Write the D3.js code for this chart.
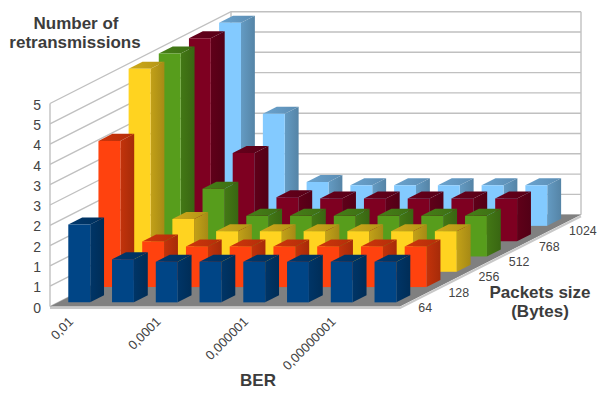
<!DOCTYPE html>
<html>
<head>
<meta charset="utf-8">
<script src="https://cdn.jsdelivr.net/npm/d3@7"></script>
<style>
  html, body { margin: 0; padding: 0; background: #fff; overflow: hidden; }
  svg { display: block; }
  text { font-family: "Liberation Sans", Arial, sans-serif; fill: #444; }
  .title { font-weight: bold; font-size: 17px; fill: #3c3c3c; }
  .tick-label { font-size: 13px; }
  .size-label { font-size: 12.4px; }
</style>
</head>
<body>
<svg id="chart" width="597" height="406"></svg>
<script>
// Retransmission counts by bit error rate (columns) and packet size (rows).
const berLevels = ["0,01", "0,001", "0,0001", "0,00001", "0,000001", "0,0000001", "0,00000001", "0,000000001"];
const berLabels = ["0,01", "0,0001", "0,000001", "0,00000001"];
const packetSizes = ["64", "128", "256", "512", "768", "1024"];
const valueTicks = [0, 0.5, 1, 1.5, 2, 2.5, 3, 3.5, 4, 4.5, 5];

const size64 = [1.92, 1.06, 1, 1, 1, 1, 1, 1];
const size128 = [3.6, 1.12, 1, 1, 1, 1, 1, 1];
const size256 = [5, 1.3, 1, 1, 1, 1, 1, 1];
const size512 = [5, 1.67, 1, 1, 1, 1, 1, 1];
const size768 = [5, 2.17, 1.08, 1.05, 1.05, 1.05, 1.05, 1.05];
const size1024 = [5, 2.76, 1.08, 1, 1, 1, 1, 1];
const seriesValues = [size64, size128, size256, size512, size768, size1024];

const frontColors = ["#004586", "#ff420e", "#ffd320", "#579d1c", "#7e0021", "#83caff"];

// Oblique projection of the chart box onto the page.
const origin = { x: 50, y: 306.5 };
const boxWidth = 350;
const boxHeight = 203;
const depthDx = 181;
const depthDy = -91.8;

const xScale = d3.scaleBand().domain(berLevels).range([-0.8, boxWidth - 0.8]).paddingInner(0.5).paddingOuter(0.25);
const depthScale = d3.scaleBand().domain(packetSizes).range([0, 1]).paddingInner(0.54).paddingOuter(0.27);
const yScale = d3.scaleLinear().domain([0, 5]).range([0, boxHeight]);

const project = (x, z, h) => [origin.x + x + z * depthDx, origin.y + z * depthDy - h];
const polygon = pts => pts.map(p => p.join(",")).join(" ");

const svg = d3.select("#chart");
const defs = svg.append("defs");

frontColors.forEach((c, i) => {
  const grad = defs.append("linearGradient").attr("id", "side" + i);
  grad.append("stop").attr("offset", 0).attr("stop-color", d3.color(c).darker(0.75));
  grad.append("stop").attr("offset", 1).attr("stop-color", d3.color(c).darker(1.2));
  const top = defs.append("linearGradient").attr("id", "top" + i);
  top.append("stop").attr("offset", 0).attr("stop-color", d3.color(c).darker(0.6));
  top.append("stop").attr("offset", 1).attr("stop-color", d3.color(c).darker(1));
});

// Walls and gridlines
const wall = svg.append("g").attr("fill", "none").attr("stroke", "#c0c0c0").attr("stroke-width", 1.4);
valueTicks.forEach(v => {
  const h = yScale(v);
  wall.append("polyline").attr("points", polygon([project(0, 0, h), project(0, 1, h), project(boxWidth, 1, h)]));
});
wall.append("line")
  .attr("x1", project(0, 0, 0)[0]).attr("y1", project(0, 0, 0)[1])
  .attr("x2", project(0, 0, boxHeight)[0]).attr("y2", project(0, 0, boxHeight)[1]);
wall.append("line")
  .attr("x1", project(0, 1, 0)[0]).attr("y1", project(0, 1, 0)[1])
  .attr("x2", project(0, 1, boxHeight)[0]).attr("y2", project(0, 1, boxHeight)[1]);
wall.append("line")
  .attr("x1", project(boxWidth, 1, 0)[0]).attr("y1", project(boxWidth, 1, 0)[1])
  .attr("x2", project(boxWidth, 1, boxHeight)[0]).attr("y2", project(boxWidth, 1, boxHeight)[1]);

// Floor with its lighter front edge
svg.append("polygon")
  .attr("points", polygon([project(0, 0, 0), project(boxWidth, 0, 0), project(boxWidth, 1, 0), project(0, 1, 0)]))
  .attr("fill", "#808080");
svg.append("polyline")
  .attr("points", polygon([[origin.x, origin.y + 1.5], [origin.x + boxWidth, origin.y + 1.5], project(boxWidth, 1, -1.5)]))
  .attr("fill", "none").attr("stroke", "#c8c8c8").attr("stroke-width", 2.2);

// Bars are painted from the back row to the front so nearer ones overlap.
const bars = svg.append("g");
d3.range(packetSizes.length - 1, -1, -1).forEach(r => {
  const z0 = depthScale(packetSizes[r]);
  const z1 = z0 + depthScale.bandwidth();
  seriesValues[r].forEach((value, c) => {
    const x0 = xScale(berLevels[c]);
    const x1 = x0 + xScale.bandwidth();
    const h = yScale(value);
    const g = bars.append("g");
    g.append("polygon")
      .attr("points", polygon([project(x1, z0, 0), project(x1, z1, 0), project(x1, z1, h), project(x1, z0, h)]))
      .attr("fill", `url(#side${r})`);
    g.append("polygon")
      .attr("points", polygon([project(x0, z0, h), project(x1, z0, h), project(x1, z1, h), project(x0, z1, h)]))
      .attr("fill", `url(#top${r})`);
    g.append("polygon")
      .attr("points", polygon([project(x0, z0, 0), project(x1, z0, 0), project(x1, z0, h), project(x0, z0, h)]))
      .attr("fill", frontColors[r]);
  });
});

// Value axis on the front edge of the left wall
const valueAxis = d3.axisLeft(d3.scaleLinear().domain([0, 5]).range([origin.y, origin.y - boxHeight]))
  .tickValues(valueTicks)
  .tickFormat(d3.format(".0f"))
  .tickSize(0)
  .tickPadding(9);
const axisG = svg.append("g").attr("transform", `translate(${origin.x},0)`).call(valueAxis);
axisG.select(".domain").remove();
axisG.selectAll("text").style("font-size", "14px").attr("dy", "0.4em");

// BER labels, rotated along the front edge
svg.append("g").selectAll("text").data(berLabels).join("text")
  .attr("class", "tick-label")
  .attr("text-anchor", "end")
  .attr("transform", d => {
    const x = origin.x + xScale(d) + xScale.bandwidth() / 2 + 3;
    return `translate(${x},${origin.y + 16}) rotate(-45)`;
  })
  .text(d => d);

// Packet-size labels along the right edge of the floor
svg.append("g").selectAll("text").data(packetSizes).join("text")
  .attr("class", "size-label")
  .attr("x", d => project(boxWidth, depthScale(d) + depthScale.bandwidth() / 2, 0)[0] + 3.2)
  .attr("y", d => project(boxWidth, depthScale(d) + depthScale.bandwidth() / 2, 0)[1] + 13)
  .text(d => d);

// Axis titles
const titles = [
  ["Number of", 76, 29],
  ["retransmissions", 75, 48],
  ["BER", 258, 386],
  ["Packets size", 540, 298],
  ["(Bytes)", 540, 317]
];
svg.append("g").selectAll("text").data(titles).join("text")
  .attr("class", "title")
  .attr("text-anchor", "middle")
  .attr("x", d => d[1])
  .attr("y", d => d[2])
  .text(d => d[0]);
</script>
</body>
</html>
